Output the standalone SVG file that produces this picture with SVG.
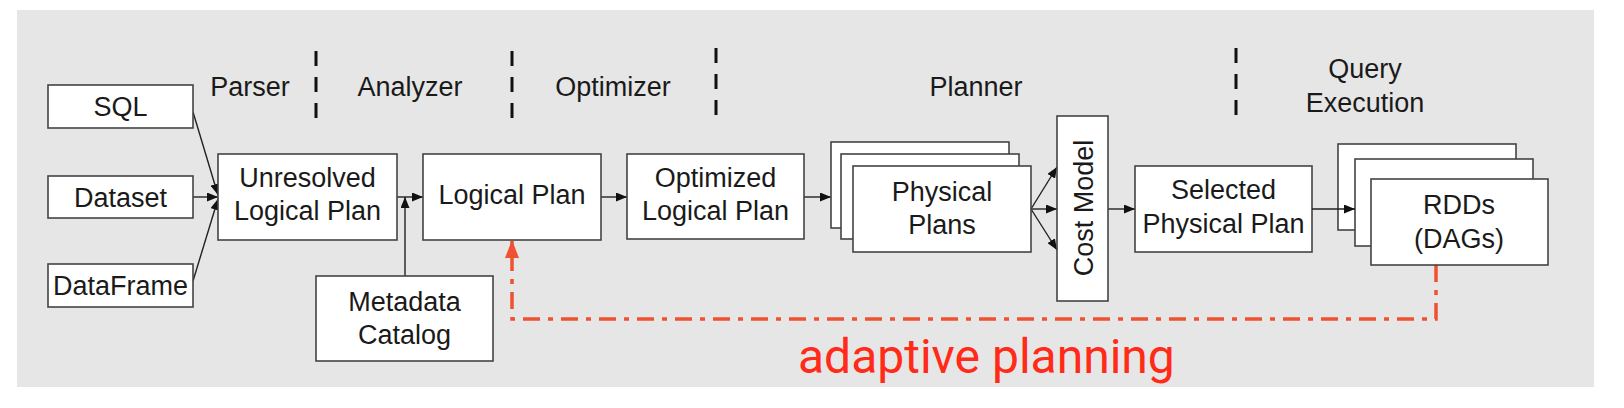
<svg xmlns="http://www.w3.org/2000/svg" width="1624" height="408" viewBox="0 0 1624 408">
<style>
.box{fill:#fff;stroke:#444;stroke-width:1.6}
.lbl{font-family:"Liberation Sans",Arial,sans-serif;font-size:27px;fill:#1a1a1a;text-anchor:middle}
.div{stroke:#111;stroke-width:3;stroke-dasharray:15 11;fill:none}
.con{stroke:#222;stroke-width:1.4;fill:none;marker-end:url(#ah)}
.red{stroke:#ef5230;stroke-width:3.5;fill:none;stroke-dasharray:17 8 5 8;marker-end:url(#rah)}
</style>
<defs>
<marker id="ah" markerUnits="userSpaceOnUse" markerWidth="11" markerHeight="9" refX="11" refY="4.5" orient="auto"><path d="M0,0 L11,4.5 L0,9 z" fill="#111"/></marker>
<marker id="rah" markerUnits="userSpaceOnUse" markerWidth="18" markerHeight="14" refX="18" refY="7" orient="auto"><path d="M0,0 L18,7 L0,14 z" fill="#ef5230"/></marker>
</defs>
<rect x="0" y="0" width="1624" height="408" fill="#fff"/>
<rect x="17" y="10" width="1577" height="377" fill="#e6e6e6"/>

<g id="stages">
<line class="div" x1="316" y1="51" x2="316" y2="118"/>
<line class="div" x1="512" y1="51" x2="512" y2="118"/>
<line class="div" x1="716" y1="48" x2="716" y2="115"/>
<line class="div" x1="1236" y1="48" x2="1236" y2="115"/>
<text class="lbl" x="250" y="96">Parser</text>
<text class="lbl" x="410" y="96">Analyzer</text>
<text class="lbl" x="613" y="96">Optimizer</text>
<text class="lbl" x="976" y="96">Planner</text>
<text class="lbl" x="1365" y="78">Query</text>
<text class="lbl" x="1365" y="112">Execution</text>
</g>

<g id="connectors">
<line class="con" x1="193" y1="112" x2="218" y2="195"/>
<line class="con" x1="193" y1="197" x2="218" y2="197"/>
<line class="con" x1="193" y1="281" x2="218" y2="199"/>
<line class="con" x1="397" y1="197" x2="423" y2="197"/>
<line class="con" x1="405" y1="276" x2="405" y2="197"/>
<line class="con" x1="601" y1="197" x2="627" y2="197"/>
<line class="con" x1="804" y1="197" x2="831" y2="197"/>
<line class="con" x1="1031" y1="209" x2="1057" y2="167"/>
<line class="con" x1="1031" y1="209" x2="1057" y2="209"/>
<line class="con" x1="1031" y1="209" x2="1057" y2="250"/>
<line class="con" x1="1108" y1="209" x2="1135" y2="209"/>
<path class="red" d="M1436,265 V319 H512 V240"/>
</g>

<g id="sql"><rect class="box" x="48" y="85" width="145" height="43"/><text class="lbl" x="120.5" y="116">SQL</text></g>
<g id="dataset"><rect class="box" x="48" y="176" width="145" height="42"/><text class="lbl" x="120.5" y="207">Dataset</text></g>
<g id="dataframe"><rect class="box" x="48" y="264" width="145" height="43"/><text class="lbl" x="120.5" y="295">DataFrame</text></g>
<g id="unresolved"><rect class="box" x="218" y="154" width="179" height="86"/><text class="lbl" x="307.5" y="187">Unresolved</text><text class="lbl" x="307.5" y="220">Logical Plan</text></g>
<g id="metadata"><rect class="box" x="316" y="276" width="177" height="85"/><text class="lbl" x="404.5" y="311">Metadata</text><text class="lbl" x="404.5" y="344">Catalog</text></g>
<g id="logical"><rect class="box" x="423" y="154" width="178" height="86"/><text class="lbl" x="512" y="204">Logical Plan</text></g>
<g id="optimized"><rect class="box" x="627" y="154" width="177" height="85"/><text class="lbl" x="715.5" y="187">Optimized</text><text class="lbl" x="715.5" y="220">Logical Plan</text></g>
<g id="physical">
<rect class="box" x="831" y="142" width="178" height="86"/>
<rect class="box" x="841" y="154" width="178" height="85"/>
<rect class="box" x="853" y="166" width="178" height="86"/>
<text class="lbl" x="942" y="201">Physical</text><text class="lbl" x="942" y="234">Plans</text>
</g>
<g id="costmodel"><rect class="box" x="1057" y="116" width="51" height="185"/><text class="lbl" transform="translate(1093,208) rotate(-90)" x="0" y="0">Cost Model</text></g>
<g id="selected"><rect class="box" x="1135" y="166" width="177" height="86"/><text class="lbl" x="1223.5" y="199">Selected</text><text class="lbl" x="1223.5" y="233">Physical Plan</text></g>
<g id="rdds">
<rect class="box" x="1338" y="144" width="178" height="86"/>
<rect class="box" x="1355" y="159" width="178" height="87"/>
<line class="con" x1="1312" y1="209" x2="1355" y2="209"/>
<rect class="box" x="1371" y="179" width="177" height="86"/>
<text class="lbl" x="1459" y="214">RDDs</text><text class="lbl" x="1459" y="248">(DAGs)</text>
</g>
<g id="adaptive"><text x="798" y="373" font-family="Roboto,sans-serif" font-size="48" fill="#ff2a17">adaptive planning</text></g>
</svg>
